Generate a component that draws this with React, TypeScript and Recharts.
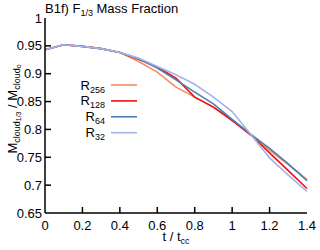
import React from 'react';
import { LineChart, Line, XAxis, YAxis, Customized } from 'recharts';

const times = [0, 0.1, 0.2, 0.3, 0.4, 0.5, 0.6, 0.7, 0.8, 0.9, 1.0, 1.1, 1.2, 1.3, 1.4];
const r256 = [0.943, 0.952, 0.949, 0.945, 0.938, 0.922, 0.903, 0.876, 0.858, 0.840, 0.817, 0.791, 0.763, 0.737, 0.710];
const r128 = [0.943, 0.952, 0.949, 0.945, 0.938, 0.926, 0.912, 0.892, 0.858, 0.840, 0.816, 0.790, 0.758, 0.726, 0.694];
const r64 = [0.943, 0.952, 0.949, 0.945, 0.938, 0.927, 0.910, 0.889, 0.867, 0.846, 0.818, 0.791, 0.766, 0.738, 0.708];
const r32 = [0.943, 0.952, 0.949, 0.945, 0.938, 0.928, 0.913, 0.898, 0.881, 0.858, 0.832, 0.791, 0.749, 0.718, 0.689];

const xTicks = [0, 0.2, 0.4, 0.6, 0.8, 1, 1.2, 1.4];
const yTicks = [0.65, 0.7, 0.75, 0.8, 0.85, 0.9, 0.95, 1];

const series = [
  { key: 'r256', sub: '256', color: '#f98a5e' },
  { key: 'r128', sub: '128', color: '#f01010' },
  { key: 'r64', sub: '64', color: '#4a80b4' },
  { key: 'r32', sub: '32', color: '#a4b4e8' },
];

const data = times.map((t, i) => ({ t, r256: r256[i], r128: r128[i], r64: r64[i], r32: r32[i] }));

const W = 320;
const H = 250;
const LEFT = 45;
const RIGHT = 307;
const TOP = 18;
const BOTTOM = 213;
const TL = 6;
const FONT = 'Liberation Sans, Arial, sans-serif';

const BottomTick = (props: any) => {
  const { x, payload } = props;
  return (
    <g>
      {payload.value !== 0 && payload.value !== 1.4 ? (
        <line x1={x} x2={x} y1={BOTTOM} y2={BOTTOM - TL} stroke="#000" strokeWidth={1.5} />
      ) : null}
      <text x={x} y={229.5} textAnchor="middle" fontSize={13} fontFamily={FONT} fill="#000">
        {String(payload.value)}
      </text>
    </g>
  );
};

const TopTick = (props: any) => {
  const { x, payload } = props;
  if (payload.value === 0 || payload.value === 1.4) return <g />;
  return <line x1={x} x2={x} y1={TOP} y2={TOP + TL} stroke="#000" strokeWidth={1.5} />;
};

const LeftTick = (props: any) => {
  const { y, payload } = props;
  return (
    <g>
      {payload.value !== 0.65 && payload.value !== 1 ? (
        <line x1={LEFT} x2={LEFT + TL} y1={y} y2={y} stroke="#000" strokeWidth={1.5} />
      ) : null}
      <text x={LEFT - 3} y={y + 4.5} textAnchor="end" fontSize={13} fontFamily={FONT} fill="#000">
        {String(payload.value)}
      </text>
    </g>
  );
};

const RightTick = (props: any) => {
  const { y, payload } = props;
  if (payload.value === 0.65 || payload.value === 1) return <g />;
  return <line x1={RIGHT} x2={RIGHT - TL} y1={y} y2={y} stroke="#000" strokeWidth={1.5} />;
};

const Extras = () => (
  <g fontFamily={FONT} fill="#000">
    <text x={45} y={12.5} fontSize={13}>
      B1f) F<tspan fontSize={9} dy={3}>1/3</tspan>
      <tspan dy={-3}> Mass Fraction</tspan>
    </text>
    <text x={176} y={241} textAnchor="middle" fontSize={13}>
      t / t<tspan fontSize={9} dy={3}>cc</tspan>
    </text>
    <text transform="translate(16.5,109) rotate(-90)" textAnchor="middle" fontSize={13}>
      M<tspan fontSize={9} dy={3}>cloud</tspan>
      <tspan fontSize={7} dy={1.5}>1/3</tspan>
      <tspan dy={-4.5}> / M</tspan>
      <tspan fontSize={9} dy={3}>cloud</tspan>
      <tspan fontSize={7} dy={1.5}>o</tspan>
    </text>
    {series.map((s, i) => {
      const ly = 85 + i * 15.9;
      return (
        <g key={s.key}>
          <text x={105} y={ly + 4.5} textAnchor="end" fontSize={13}>
            R<tspan fontSize={9} dy={3}>{s.sub}</tspan>
          </text>
          <line x1={111} x2={137} y1={ly} y2={ly} stroke={s.color} strokeWidth={1.6} />
        </g>
      );
    })}
  </g>
);

export default function App() {
  return (
    <div style={{ position: 'absolute', left: 0, top: 0, width: W, height: H, background: '#fff' }}>
      <LineChart width={W} height={H} data={data} margin={{ top: TOP, right: W - RIGHT, bottom: 0, left: 0 }}>
        <XAxis
          xAxisId={0}
          dataKey="t"
          type="number"
          domain={[0, 1.4]}
          ticks={xTicks}
          height={H - BOTTOM}
          tickLine={false}
          axisLine={{ stroke: '#000', strokeWidth: 1.5 }}
          tick={<BottomTick />}
          interval={0}
        />
        <XAxis
          xAxisId="top"
          orientation="top"
          dataKey="t"
          type="number"
          domain={[0, 1.4]}
          ticks={xTicks}
          height={0}
          tickLine={false}
          axisLine={{ stroke: '#000', strokeWidth: 1.5 }}
          tick={<TopTick />}
          interval={0}
        />
        <YAxis
          yAxisId={0}
          type="number"
          domain={[0.65, 1]}
          ticks={yTicks}
          width={LEFT}
          tickLine={false}
          axisLine={{ stroke: '#000', strokeWidth: 1.5 }}
          tick={<LeftTick />}
          interval={0}
        />
        <YAxis
          yAxisId="right"
          orientation="right"
          type="number"
          domain={[0.65, 1]}
          ticks={yTicks}
          width={0}
          tickLine={false}
          axisLine={{ stroke: '#000', strokeWidth: 1.5 }}
          tick={<RightTick />}
          interval={0}
        />
        {series.map((s) => (
          <Line
            key={s.key}
            xAxisId={0}
            yAxisId={0}
            type="linear"
            dataKey={s.key}
            stroke={s.color}
            strokeWidth={1.6}
            dot={false}
            isAnimationActive={false}
          />
        ))}
        <Customized component={Extras} />
      </LineChart>
    </div>
  );
}
